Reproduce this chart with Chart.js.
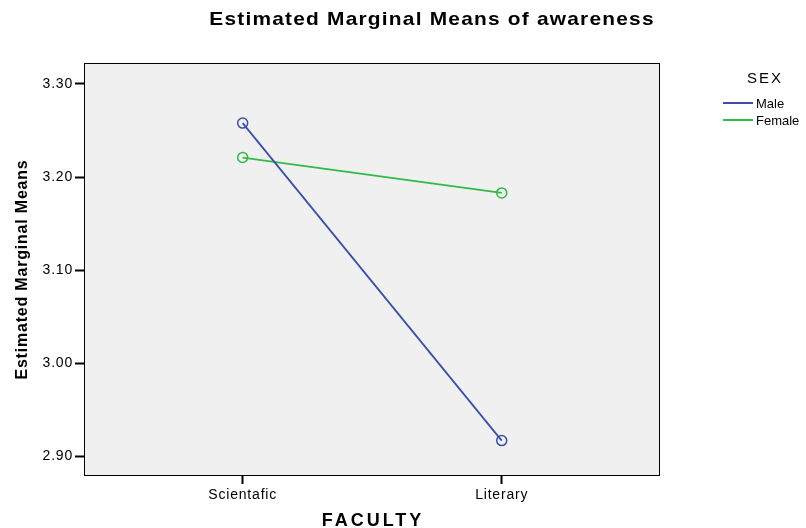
<!DOCTYPE html>
<html>
<head>
<meta charset="utf-8">
<script src="https://cdn.jsdelivr.net/npm/chart.js@4.4.0/dist/chart.umd.min.js"></script>
<style>
  html, body { margin: 0; padding: 0; background: #fff; }
  #wrap { width: 806px; height: 528px; position: relative; }
</style>
</head>
<body>
<div id="wrap"><canvas id="myChart" width="806" height="528"></canvas></div>
<script>
// data
var categories = ['Scientafic', 'Literary'];
var seriesNames = ['Male', 'Female'];
var maleValues = [3.258, 2.917];
var femaleValues = [3.221, 3.183];
var yTicks = [2.90, 3.00, 3.10, 3.20, 3.30];
var chartTitle = 'Estimated Marginal Means of awareness';
var xTitle = 'FACULTY';
var legendTitle = 'SEX';

var blue = '#3c4fa8';
var green = '#2fbb45';
var fam = '"Liberation Sans", Arial, sans-serif';

function toPoints(vals) {
  return vals.map(function (v, i) { return { x: i, y: v }; });
}

// background, frame, titles and legend
var decor = {
  id: 'decor',
  beforeDraw: function (chart) {
    var c = chart.ctx, a = chart.chartArea;
    c.fillStyle = '#f0f0f0';
    c.fillRect(a.left, a.top, a.right - a.left, a.bottom - a.top);
    // the SPSS text is a bit spread out
    c.letterSpacing = '0.8px';
  },
  afterDraw: function (chart) {
    var c = chart.ctx, a = chart.chartArea;
    c.save();
    c.strokeStyle = '#000';
    c.lineWidth = 1;
    c.strokeRect(a.left + 0.5, a.top + 0.5, a.right - a.left - 1, a.bottom - a.top - 1);

    c.fillStyle = '#000';
    c.textAlign = 'center';
    c.textBaseline = 'middle';

    // main title, a little stretched sideways
    c.save();
    c.translate(432, 20);
    c.scale(1.1, 1);
    c.letterSpacing = '1.1px';
    c.font = 'bold 19px ' + fam;
    c.fillText(chartTitle, 0, 0);
    c.restore();

    c.letterSpacing = '3px';
    c.font = 'bold 18px ' + fam;
    c.fillText(xTitle, (a.left + a.right) / 2 + 1, 521);

    c.letterSpacing = '2px';
    c.font = '15px ' + fam;
    c.fillText(legendTitle, 765, 79);

    c.textAlign = 'left';
    c.letterSpacing = '0px';
    c.font = '13px ' + fam;
    chart.data.datasets.forEach(function (ds, i) {
      var y = 103 + i * 17;
      c.strokeStyle = ds.borderColor;
      c.lineWidth = 2;
      c.beginPath();
      c.moveTo(723, y);
      c.lineTo(753, y);
      c.stroke();
      c.fillStyle = '#000';
      c.fillText(ds.label, 756, y + 1);
    });
    c.restore();
    c.letterSpacing = '0px';
  }
};

var ctx = document.getElementById('myChart').getContext('2d');
var myChart = new Chart(ctx, {
  type: 'line',
  data: {
    datasets: [{
      label: seriesNames[0],
      data: toPoints(maleValues),
      borderColor: blue,
      backgroundColor: 'transparent',
      borderWidth: 1.8,
      pointRadius: 5,
      pointBorderWidth: 1.5,
      pointStyle: 'circle',
      tension: 0
    }, {
      label: seriesNames[1],
      data: toPoints(femaleValues),
      borderColor: green,
      backgroundColor: 'transparent',
      borderWidth: 1.8,
      pointRadius: 5,
      pointBorderWidth: 1.5,
      pointStyle: 'circle',
      tension: 0
    }]
  },
  options: {
    responsive: false,
    animation: false,
    layout: { padding: { left: 0, right: 146, top: 63, bottom: 0 } },
    plugins: {
      legend: { display: false },
      title: { display: false },
      tooltip: { enabled: false }
    },
    scales: {
      x: {
        type: 'linear',
        min: -0.6126,
        max: 1.611,
        afterBuildTicks: function (scale) {
          scale.ticks = categories.map(function (c, i) { return { value: i }; });
        },
        afterFit: function (scale) { scale.height = 52; },
        ticks: {
          callback: function (v) { return categories[v]; },
          color: '#000',
          font: { size: 14, family: fam },
          padding: 3,
          maxRotation: 0,
          autoSkip: false
        },
        grid: { drawOnChartArea: false, drawTicks: true, tickLength: 8, color: '#000', tickWidth: 2 },
        border: { display: false },
        title: { display: false }
      },
      y: {
        min: 2.879,
        max: 3.3225,
        afterBuildTicks: function (scale) {
          scale.ticks = yTicks.map(function (v) { return { value: v }; });
        },
        afterFit: function (scale) { scale.width = 84; },
        ticks: {
          callback: function (v) { return v.toFixed(2); },
          color: '#000',
          font: { size: 14, family: fam },
          padding: 2
        },
        grid: { drawOnChartArea: false, drawTicks: true, tickLength: 9, color: '#000', tickWidth: 2 },
        border: { display: false },
        title: {
          display: true,
          text: 'Estimated Marginal Means',
          color: '#000',
          font: { size: 16, weight: 'bold', family: fam },
          padding: { top: 13, bottom: 0 }
        }
      }
    }
  },
  plugins: [decor]
});
</script>
</body>
</html>
